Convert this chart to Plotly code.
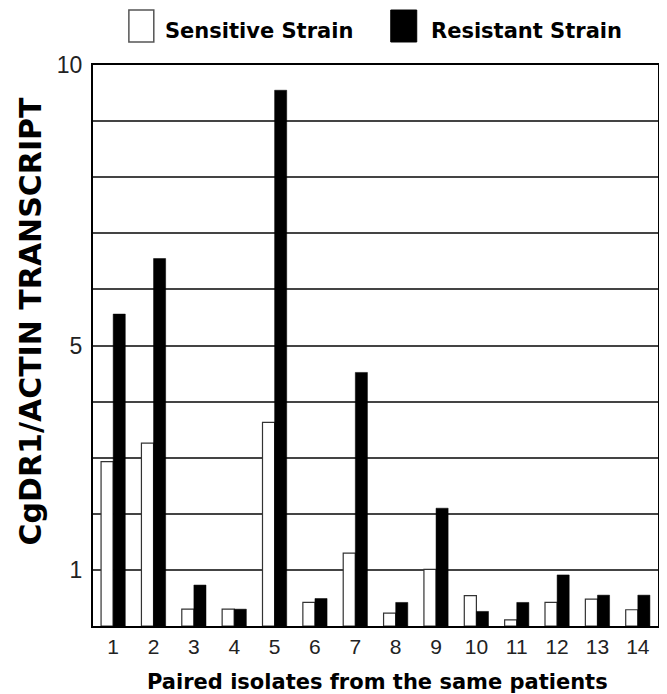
import plotly.graph_objects as go

categories = [str(i) for i in range(1, 15)]
sensitive = [2.93, 3.26, 0.30, 0.30, 3.63, 0.42, 1.30, 0.23, 1.01, 0.54, 0.11, 0.42, 0.48, 0.29]
resistant = [5.56, 6.55, 0.73, 0.30, 9.55, 0.49, 4.52, 0.42, 2.10, 0.26, 0.42, 0.91, 0.55, 0.55]
y_tickvals = list(range(0, 11))
y_ticktext = ["" if v not in (1, 5, 10) else str(v) for v in y_tickvals]

BOLD = "DejaVu Sans"
REG = "Liberation Sans Narrow, Liberation Sans, Arial, sans-serif"

fig = go.Figure()
fig.add_trace(go.Bar(x=categories, y=sensitive, name="Sensitive Strain",
                     marker=dict(color="white", line=dict(color="#333", width=1.2))))
fig.add_trace(go.Bar(x=categories, y=resistant, name="Resistant Strain",
                     marker=dict(color="black", line=dict(color="black", width=0.5))))

# page body has an 8px margin, so the figure is sized 8px smaller each way
fig.update_layout(
    width=659, height=686,
    margin=dict(l=85, r=7, t=57, b=68),
    paper_bgcolor="white", plot_bgcolor="white",
    barmode="group", bargap=0.4, bargroupgap=0,
    showlegend=False,
    xaxis=dict(
        type="category", showgrid=False, showline=True, linecolor="black", linewidth=2,
        mirror=True, ticks="", ticklabelstandoff=1,
        tickfont=dict(family=REG, size=21, color="#222"),
    ),
    yaxis=dict(
        range=[0, 10], tickmode="array", tickvals=y_tickvals, ticktext=y_ticktext,
        showgrid=True, gridcolor="#444", gridwidth=1.5, zeroline=False,
        showline=True, linecolor="black", linewidth=2, mirror=True, ticks="",
        ticklabelstandoff=4,
        tickfont=dict(family=REG, size=23, color="#222"),
    ),
    shapes=[
        dict(type="rect", xref="paper", yref="paper", x0=0.0635, x1=0.1076, y0=1.041, y1=1.098,
             fillcolor="white", line=dict(color="#555", width=1.5)),
        dict(type="rect", xref="paper", yref="paper", x0=0.527, x1=0.573, y0=1.041, y1=1.098,
             fillcolor="black", line=dict(color="black", width=1)),
    ],
    annotations=[
        dict(text="<b>Sensitive Strain</b>", xref="paper", yref="paper", x=0.1235, y=1.061,
             xanchor="left", yanchor="middle", showarrow=False,
             font=dict(family=BOLD, size=21, color="black")),
        dict(text="<b>Resistant Strain</b>", xref="paper", yref="paper", x=0.594, y=1.061,
             xanchor="left", yanchor="middle", showarrow=False,
             font=dict(family=BOLD, size=21, color="black")),
        dict(text="<b>CgDR1/ACTIN TRANSCRIPT</b>", xref="paper", yref="paper", x=-0.109, y=0.5437,
             xanchor="center", yanchor="middle", textangle=-90, showarrow=False,
             font=dict(family=BOLD, size=30, color="black")),
        dict(text="<b>Paired isolates from the same patients</b>", xref="paper", yref="paper",
             x=0.503, y=-0.1, xanchor="center", yanchor="middle", showarrow=False,
             font=dict(family=BOLD, size=21, color="black")),
    ],
)

fig.write_html("out.html")
